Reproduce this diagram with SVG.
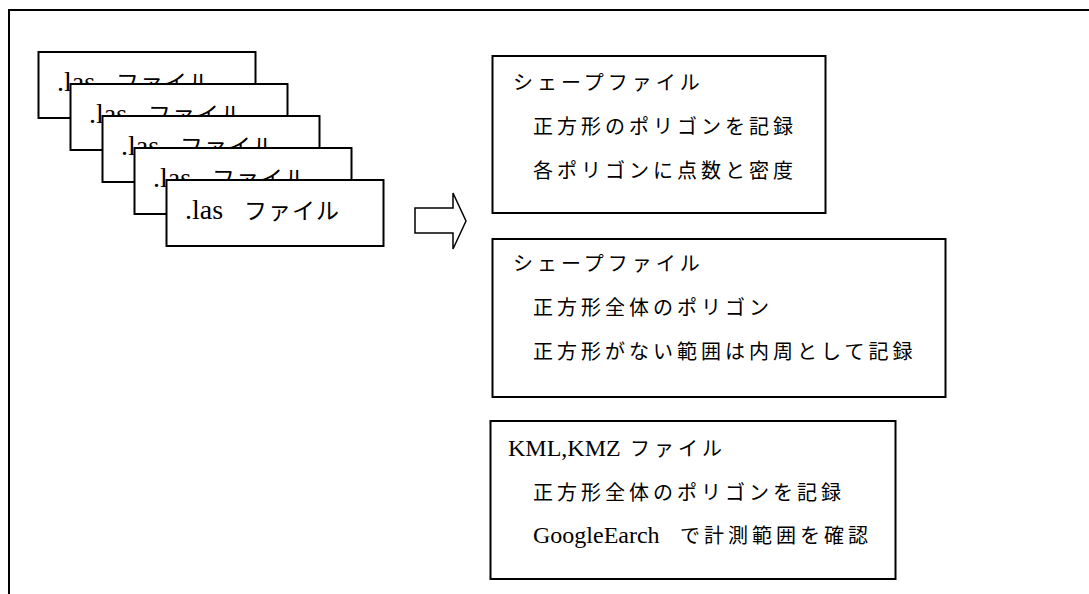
<svg xmlns="http://www.w3.org/2000/svg" width="1089" height="594" viewBox="0 0 1089 594">
<style>
.frame{fill:none;stroke:#000;stroke-width:2}
.box{fill:#fff;stroke:#000;stroke-width:2}
.arrow{fill:#fff;stroke:#000;stroke-width:1.5;stroke-linejoin:miter}
text{fill:#000;font-family:"Liberation Serif","Noto Sans CJK JP",serif}
.las{font-size:28px}
.lat{font-size:24px}
.cjk{font-family:"Noto Sans CJK JP","Liberation Serif",sans-serif;font-size:20px;letter-spacing:4px}
.cjkl{font-family:"Noto Sans CJK JP","Liberation Serif",sans-serif;font-size:23px;letter-spacing:1px}
</style>
<rect width="1089" height="594" fill="#fff"/>
<path class="frame" d="M9,594 V10 H1089"/>
<g id="las1"><rect class="box" x="38.5" y="52" width="217" height="66"/><text class="las" x="57" y="91">.las<tspan class="cjkl" x="116">ファイル</tspan></text></g>
<g id="las2"><rect class="box" x="70.5" y="84" width="217" height="66"/><text class="las" x="89" y="123">.las<tspan class="cjkl" x="148">ファイル</tspan></text></g>
<g id="las3"><rect class="box" x="102.5" y="116" width="217" height="66"/><text class="las" x="121" y="155">.las<tspan class="cjkl" x="180">ファイル</tspan></text></g>
<g id="las4"><rect class="box" x="134.5" y="148" width="217" height="66"/><text class="las" x="153" y="187">.las<tspan class="cjkl" x="212">ファイル</tspan></text></g>
<g id="las5"><rect class="box" x="166.5" y="180" width="217" height="66"/><text class="las" x="185" y="219">.las<tspan class="cjkl" x="244">ファイル</tspan></text></g>
<g id="connectors"><polygon class="arrow" points="415,208 453,208 453,193 466,221 453,249 453,233 415,233"/></g>
<g id="shape1"><rect class="box" x="492.5" y="56" width="333" height="157"/>
<text class="cjk" x="513" y="90">シェープファイル</text>
<text class="cjk" x="533" y="134">正方形のポリゴンを記録</text>
<text class="cjk" x="533" y="178">各ポリゴンに点数と密度</text></g>
<g id="shape2"><rect class="box" x="492.5" y="239" width="453" height="158"/>
<text class="cjk" x="513" y="271">シェープファイル</text>
<text class="cjk" x="533" y="315">正方形全体のポリゴン</text>
<text class="cjk" x="533" y="359">正方形がない範囲は内周として記録</text></g>
<g id="kml"><rect class="box" x="490.5" y="421" width="405" height="158"/>
<text class="lat" x="508" y="456">KML,KMZ<tspan class="cjk" x="630">ファイル</tspan></text>
<text class="cjk" x="533" y="500">正方形全体のポリゴンを記録</text>
<text class="lat" x="533" y="543">GoogleEarch<tspan class="cjk" x="680">で計測範囲を確認</tspan></text></g>
</svg>
